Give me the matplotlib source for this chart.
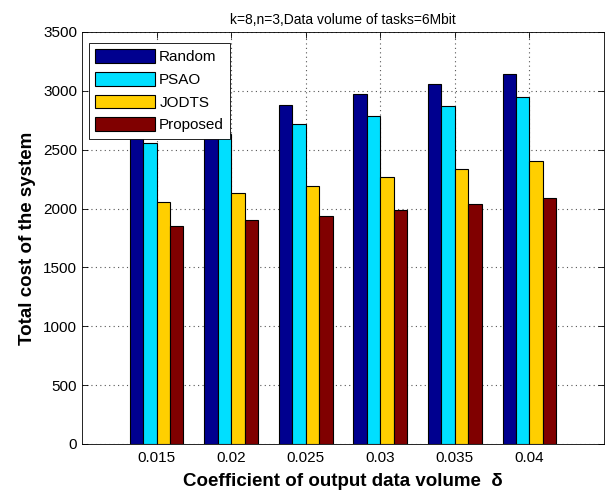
import matplotlib
matplotlib.use('Agg')
import matplotlib.pyplot as plt
import numpy as np

deltas = ['0.015', '0.02', '0.025', '0.03', '0.035', '0.04']
random_cost = [2700, 2790, 2880, 2970, 3060, 3145]
psao_cost = [2560, 2630, 2720, 2790, 2875, 2950]
jodts_cost = [2055, 2130, 2190, 2265, 2335, 2405]
proposed_cost = [1850, 1900, 1940, 1985, 2035, 2090]

series_names = ['Random', 'PSAO', 'JODTS', 'Proposed']
series_colors = ['#00008F', '#00DFFF', '#FFCF00', '#800000']

plt.rcParams['font.family'] = ['Liberation Sans', 'DejaVu Sans']

fig = plt.figure(figsize=(6.05, 4.92), dpi=100)
ax = fig.add_axes([0.1355, 0.0976, 0.8628, 0.8374])

x = np.arange(1, len(deltas) + 1)
width = 0.18
all_series = [random_cost, psao_cost, jodts_cost, proposed_cost]
for i, (vals, name, color) in enumerate(zip(all_series, series_names, series_colors)):
    offset = (i - 1.5) * width
    ax.bar(x + offset, vals, width, color=color, edgecolor='black',
           linewidth=0.8, label=name, zorder=3)

ax.set_xlim(0, 7)
ax.set_ylim(0, 3500)
ax.set_xticks(x)
ax.set_xticklabels(deltas, fontsize=11)
ax.set_yticks(np.arange(0, 3501, 500))
ax.tick_params(axis='y', labelsize=11)
ax.tick_params(direction='in', top=True, right=True, length=4, width=0.6)
ax.tick_params(axis='x', pad=5)
ax.grid(True, linestyle=(0, (1, 3)), color='#555555', linewidth=0.8, zorder=0)
for spine in ax.spines.values():
    spine.set_linewidth(0.6)

ax.set_xlabel('Coefficient of output data volume  \u03b4', fontsize=13.5,
              fontweight='bold', labelpad=6)
ax.set_ylabel('Total cost of the system', fontsize=13.5, fontweight='bold',
              labelpad=5)
ax.set_title('k=8,n=3,Data volume of tasks=6Mbit', fontsize=10, pad=6)

leg = ax.legend(loc='upper left', bbox_to_anchor=(0.0134, 0.973), fontsize=11,
                handlelength=3.9, handleheight=1.0, labelspacing=0.5,
                handletextpad=0.3, borderpad=0.4, borderaxespad=0,
                fancybox=False, framealpha=1, edgecolor='black')
leg.get_frame().set_linewidth(0.6)

fig.savefig('out.png', dpi=100)
